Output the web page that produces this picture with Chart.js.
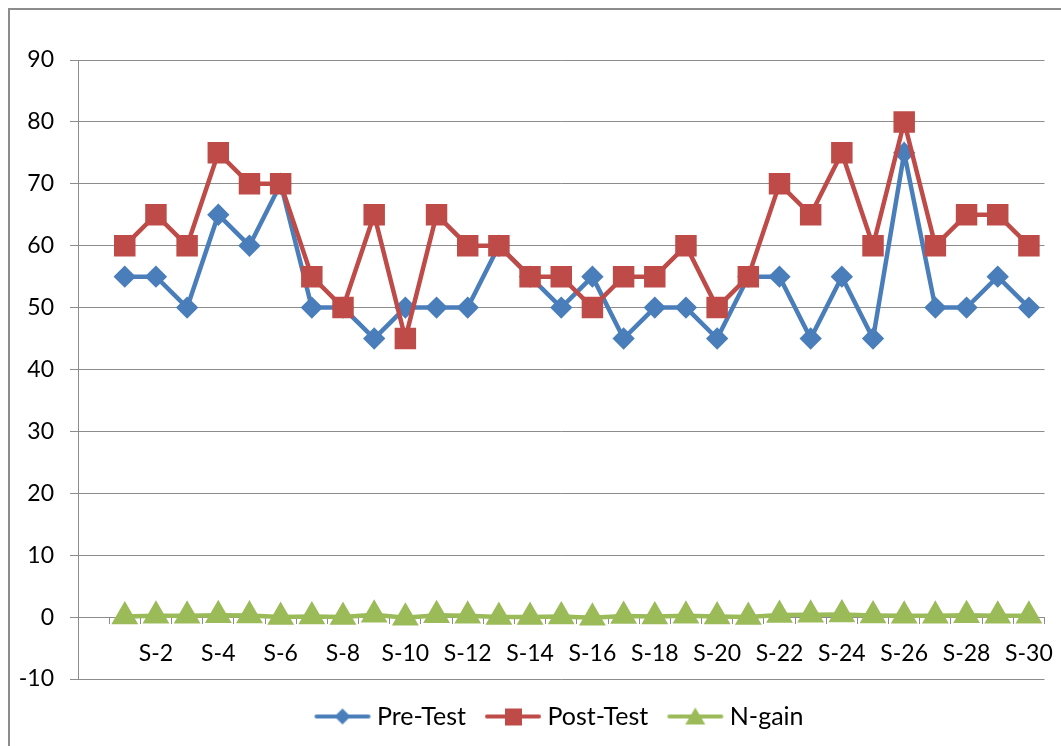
<!DOCTYPE html>
<html>
<head>
<meta charset="utf-8">
<script src="https://cdn.jsdelivr.net/npm/chart.js@4/dist/chart.umd.min.js"></script>
<style>
  html, body { margin: 0; padding: 0; background: #fff; }
  #wrap { position: relative; width: 1061px; height: 746px; overflow: hidden; }
  #frame { position: absolute; left: 8px; top: 8px; width: 1100px; height: 800px;
           border-left: 2px solid #8c8c8c; border-top: 2px solid #8c8c8c; }
  canvas { position: absolute; left: 0; top: 0; }
</style>
</head>
<body>
<div id="wrap">
  <div id="frame"></div>
  <canvas id="chart" width="1061" height="746"></canvas>
</div>
<script>
/* ── Data (first category is blank, as in the sheet) ── */
const students = ['', 'S-1', 'S-2', 'S-3', 'S-4', 'S-5', 'S-6', 'S-7', 'S-8', 'S-9', 'S-10',
  'S-11', 'S-12', 'S-13', 'S-14', 'S-15', 'S-16', 'S-17', 'S-18', 'S-19', 'S-20',
  'S-21', 'S-22', 'S-23', 'S-24', 'S-25', 'S-26', 'S-27', 'S-28', 'S-29', 'S-30'];

const preTest = [null, 55, 55, 50, 65, 60, 70, 50, 50, 45, 50,
  50, 50, 60, 55, 50, 55, 45, 50, 50, 45,
  55, 55, 45, 55, 45, 75, 50, 50, 55, 50];

const postTest = [null, 60, 65, 60, 75, 70, 70, 55, 50, 65, 45,
  65, 60, 60, 55, 55, 50, 55, 55, 60, 50,
  55, 70, 65, 75, 60, 80, 60, 65, 65, 60];

const nGain = [null, 0.11, 0.22, 0.2, 0.29, 0.25, 0, 0.1, 0, 0.36, -0.1,
  0.3, 0.2, 0, 0, 0.1, -0.11, 0.18, 0.1, 0.2, 0.09,
  0, 0.33, 0.36, 0.44, 0.27, 0.2, 0.2, 0.3, 0.22, 0.2];

const yTicks = { min: -10, max: 90, step: 10 };

const BLUE = '#4a7ebb';
const RED = '#be4b48';
const GREEN = '#9bbb59';
const AXIS = '#8c8c8c';
const FONT = 'Lato, "Liberation Sans", sans-serif';
const FSIZE = 23;

/* ── Legend icons: line with marker, like the spreadsheet legend ── */
function legendIcon(color, shape) {
  const c = document.createElement('canvas');
  c.width = 58; c.height = 24;
  const g = c.getContext('2d');
  g.strokeStyle = color;
  g.lineWidth = 4;
  g.lineCap = 'round';
  g.beginPath(); g.moveTo(3, 12); g.lineTo(55, 12); g.stroke();
  g.fillStyle = color;
  g.beginPath();
  if (shape === 'diamond') {
    g.moveTo(29, 4); g.lineTo(37, 12); g.lineTo(29, 20); g.lineTo(21, 12);
  } else if (shape === 'square') {
    g.rect(21, 4, 17, 17);
  } else {
    g.moveTo(29, 3); g.lineTo(39, 20); g.lineTo(19, 20);
  }
  g.closePath(); g.fill();
  return c;
}
const icons = [legendIcon(BLUE, 'diamond'), legendIcon(RED, 'square'), legendIcon(GREEN, 'triangle')];

// the spreadsheet legend sits a little right of the canvas centre
const legendShift = {
  id: 'legendShift',
  afterLayout(chart) {
    if (!chart.legend) return;
    chart.legend.left += 38;
    chart.legend.right += 38;
  }
};

new Chart(document.getElementById('chart'), {
  type: 'line',
  data: {
    labels: students,
    datasets: [
      {
        label: 'Pre-Test', data: preTest,
        borderColor: BLUE, backgroundColor: BLUE, borderWidth: 4.5,
        pointStyle: 'rectRot', pointRadius: 8, pointHoverRadius: 8,
        order: 3
      },
      {
        label: 'Post-Test', data: postTest,
        borderColor: RED, backgroundColor: RED, borderWidth: 4.5,
        pointStyle: 'rect', pointRadius: 12, pointHoverRadius: 12,
        order: 2
      },
      {
        label: 'N-gain', data: nGain,
        borderColor: GREEN, backgroundColor: GREEN, borderWidth: 4.5,
        pointStyle: 'triangle', pointRadius: 11, pointHoverRadius: 11,
        order: 1
      }
    ]
  },
  plugins: [legendShift],
  options: {
    responsive: false,
    animation: false,
    spanGaps: false,
    layout: { padding: { left: 0, top: 60, right: 13, bottom: 7 } },
    plugins: {
      tooltip: { enabled: false },
      legend: {
        position: 'bottom',
        labels: {
          color: '#000',
          font: { family: FONT, size: 25 },
          usePointStyle: true,
          pointStyleWidth: 44,
          boxHeight: FSIZE,
          padding: 25,
          sort: (a, b) => a.datasetIndex - b.datasetIndex,
          generateLabels(chart) {
            const items = Chart.defaults.plugins.legend.labels.generateLabels(chart);
            items.forEach(it => { it.pointStyle = icons[it.datasetIndex]; });
            return items;
          }
        }
      }
    },
    scales: {
      x: {
        type: 'category',
        position: { y: 0 },
        offset: true,
        grid: { offset: true, drawOnChartArea: false, color: AXIS, tickLength: 6, lineWidth: 1 },
        border: { color: AXIS, width: 1 },
        ticks: {
          autoSkip: false, maxRotation: 0, minRotation: 0,
          color: '#000', font: { family: FONT, size: FSIZE }, padding: 17,
          callback(val, idx) { return idx % 2 === 0 ? this.getLabelForValue(val) : ''; }
        },
        afterFit(scale) { scale.paddingLeft = 0; scale.paddingRight = 0; }
      },
      y: {
        min: yTicks.min, max: yTicks.max,
        ticks: {
          stepSize: yTicks.step, color: '#000',
          font: { family: FONT, size: FSIZE }, padding: 16
        },
        grid: { color: AXIS, tickLength: 8, lineWidth: 1 },
        border: { color: AXIS, width: 1 },
        afterFit(scale) { scale.width = 78; }
      }
    }
  }
});
</script>
</body>
</html>
